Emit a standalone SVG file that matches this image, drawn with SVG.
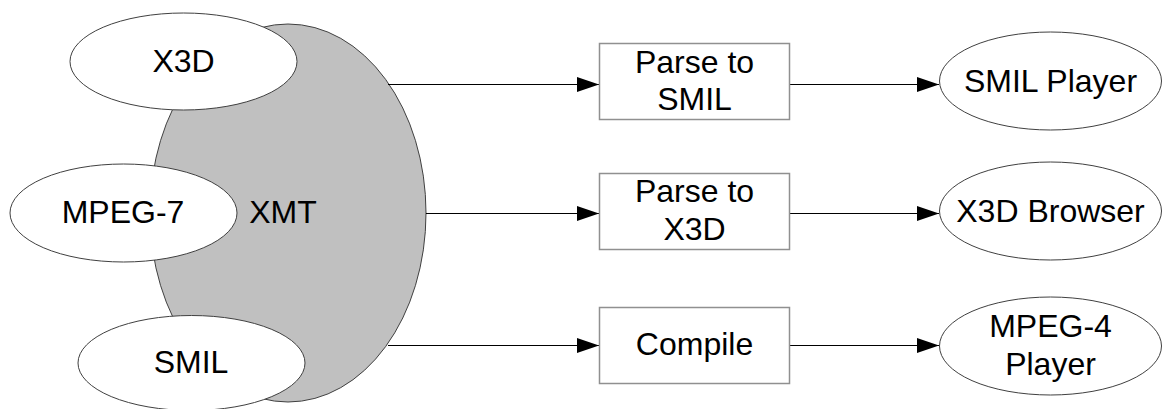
<svg xmlns="http://www.w3.org/2000/svg" width="1163" height="409" viewBox="0 0 1163 409">
<style>
text{font-family:"Liberation Sans",Arial,sans-serif;font-size:32px;fill:#000;text-anchor:middle}
.el{fill:#fff;stroke:#404040;stroke-width:1}
.bx{fill:#fff;stroke:#909090;stroke-width:1.5}
.ln{stroke:#000;stroke-width:1.2;fill:none;marker-end:url(#ah)}
</style>
<defs>
<marker id="ah" markerUnits="userSpaceOnUse" markerWidth="22" markerHeight="16" refX="22" refY="7.5" orient="auto">
<path d="M0,0 L22,7.5 L0,15 Z" fill="#000"/>
</marker>
</defs>
<rect width="1163" height="409" fill="#fff"/>
<g id="xmt">
<ellipse cx="288" cy="213" rx="138" ry="189" fill="#c0c0c0" stroke="#404040" stroke-width="1"/>
<text x="283" y="223">XMT</text>
</g>
<g id="x3d">
<ellipse class="el" cx="183.5" cy="61.5" rx="113.5" ry="48.5"/>
<text x="183.5" y="72">X3D</text>
</g>
<g id="mpeg7">
<ellipse class="el" cx="123.5" cy="213" rx="113.5" ry="49"/>
<text x="123" y="223">MPEG-7</text>
</g>
<g id="smil">
<ellipse class="el" cx="191.5" cy="363" rx="113.5" ry="47.5"/>
<text x="191" y="373">SMIL</text>
</g>
<g id="connectors">
<line class="ln" x1="388" y1="84.5" x2="599" y2="84.5"/>
<line class="ln" x1="426" y1="213.5" x2="599" y2="213.5"/>
<line class="ln" x1="388" y1="345.5" x2="599" y2="345.5"/>
<line class="ln" x1="789" y1="84.5" x2="939" y2="84.5"/>
<line class="ln" x1="789" y1="213.5" x2="939" y2="213.5"/>
<line class="ln" x1="789" y1="345.5" x2="939" y2="345.5"/>
</g>
<g id="parse-smil">
<rect class="bx" x="599.5" y="43.5" width="190" height="76"/>
<text x="694.5" y="73">Parse to</text>
<text x="694.5" y="110">SMIL</text>
</g>
<g id="parse-x3d">
<rect class="bx" x="599.5" y="173.5" width="190" height="76"/>
<text x="694.5" y="202">Parse to</text>
<text x="694.5" y="240">X3D</text>
</g>
<g id="compile">
<rect class="bx" x="599.5" y="307.5" width="190" height="76"/>
<text x="694.5" y="355">Compile</text>
</g>
<g id="smil-player">
<ellipse class="el" cx="1050.5" cy="81" rx="111" ry="49"/>
<text x="1050.5" y="92">SMIL Player</text>
</g>
<g id="x3d-browser">
<ellipse class="el" cx="1050.5" cy="211" rx="111" ry="49"/>
<text x="1050.5" y="222">X3D Browser</text>
</g>
<g id="mpeg4-player">
<ellipse class="el" cx="1050.5" cy="346" rx="111" ry="49"/>
<text x="1050.5" y="337">MPEG-4</text>
<text x="1050.5" y="375">Player</text>
</g>
</svg>
